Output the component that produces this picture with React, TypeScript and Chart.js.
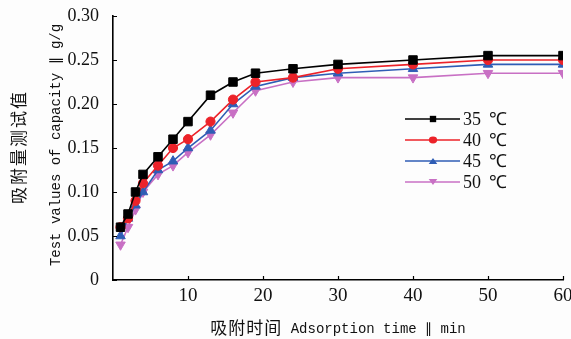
import React, { useEffect, useRef } from "react";
import { Chart, registerables } from "chart.js";

Chart.register(...registerables);

const times = [1, 2, 3, 4, 6, 8, 10, 13, 16, 19, 24, 30, 40, 50, 60];
const seriesLabels = ["35 ℃", "40 ℃", "45 ℃", "50 ℃"];
const values35 = [0.06, 0.075, 0.1, 0.12, 0.14, 0.16, 0.18, 0.21, 0.225, 0.235, 0.24, 0.245, 0.25, 0.255, 0.255];
const values40 = [0.06, 0.07, 0.09, 0.11, 0.13, 0.15, 0.16, 0.18, 0.205, 0.225, 0.23, 0.24, 0.245, 0.25, 0.25];
const values45 = [0.05, 0.07, 0.085, 0.1, 0.125, 0.135, 0.15, 0.17, 0.2, 0.22, 0.23, 0.235, 0.24, 0.245, 0.245];
const values50 = [0.04, 0.06, 0.08, 0.1, 0.12, 0.13, 0.145, 0.165, 0.19, 0.215, 0.225, 0.23, 0.23, 0.235, 0.235];
const xTicks = [10, 20, 30, 40, 50, 60];
const yTicks = [0, 0.05, 0.1, 0.15, 0.2, 0.25, 0.3];

const yTitleCn = "吸附量测试值";
const yTitleEn = "Test values of capacity ∥ g/g";
const xTitleCn = "吸附时间";
const xTitleEn = "Adsorption time ∥ min";

const colors = ["#000000", "#ec2229", "#2f5db5", "#c870c4"];
const styles: any[] = ["rect", "circle", "triangle", "triangle"];
const rotations = [0, 0, 0, 180];
const radii = [6, 4.6, 5.5, 5.5];

const SERIF = "'Liberation Serif', 'Times New Roman', serif";
const MONO = "'Liberation Mono', 'Courier New', monospace";
const CJK = "'Noto Sans CJK SC', sans-serif";

function drawMarker(ctx: CanvasRenderingContext2D, style: string, rot: number, r: number, x: number, y: number) {
  ctx.beginPath();
  if (style === "rect") {
    const s = r * Math.SQRT1_2;
    ctx.rect(x - s, y - s, 2 * s, 2 * s);
  } else if (style === "circle") {
    ctx.ellipse(x, y, r * 1.2, r, 0, 0, Math.PI * 2);
  } else {
    const a0 = (rot * Math.PI) / 180 - Math.PI / 2;
    for (let k = 0; k < 3; k++) {
      const a = a0 + (k * 2 * Math.PI) / 3;
      const px = x + Math.cos(a) * r * 1.2;
      const py = y + Math.sin(a) * r + (rot === 180 ? -r * 0.25 : r * 0.25);
      if (k === 0) ctx.moveTo(px, py);
      else ctx.lineTo(px, py);
    }
    ctx.closePath();
  }
  ctx.fill();
}

const decorPlugin = {
  id: "decor",
  afterDraw(chart: any) {
    const ctx = chart.ctx as CanvasRenderingContext2D;
    const xs = chart.scales.x;
    const ys = chart.scales.y;
    const area = chart.chartArea;
    ctx.save();
    // inward tick marks
    ctx.strokeStyle = "#000";
    ctx.lineWidth = 1.2;
    ctx.beginPath();
    xTicks.forEach((v) => {
      const px = Math.round(xs.getPixelForValue(v)) + 0.5;
      ctx.moveTo(px, area.bottom);
      ctx.lineTo(px, area.bottom - 4);
    });
    yTicks.forEach((v) => {
      const py = Math.round(ys.getPixelForValue(v)) + 0.5;
      ctx.moveTo(area.left, py);
      ctx.lineTo(area.left + 4, py);
    });
    ctx.stroke();

    // y titles
    ctx.fillStyle = "#111";
    ctx.textAlign = "center";
    ctx.textBaseline = "middle";
    ctx.save();
    ctx.translate(19, 147);
    ctx.rotate(-Math.PI / 2);
    ctx.font = `17px ${CJK}`;
    (ctx as any).letterSpacing = "2px";
    ctx.fillText(yTitleCn, 0, 0);
    ctx.restore();

    ctx.save();
    ctx.translate(56, 145);
    ctx.rotate(-Math.PI / 2);
    ctx.font = `14px ${MONO}`;
    ctx.fillText(yTitleEn, 0, 0);
    ctx.restore();

    // x title
    ctx.save();
    ctx.textAlign = "left";
    ctx.font = `17px ${CJK}`;
    (ctx as any).letterSpacing = "1px";
    const cnW = ctx.measureText(xTitleCn).width;
    (ctx as any).letterSpacing = "0px";
    ctx.font = `14px ${MONO}`;
    const enW = ctx.measureText(" " + xTitleEn).width;
    const cx = (area.left + area.right) / 2;
    const start = cx - (cnW + enW) / 2;
    ctx.font = `17px ${CJK}`;
    (ctx as any).letterSpacing = "1px";
    ctx.fillText(xTitleCn, start, 328);
    (ctx as any).letterSpacing = "0px";
    ctx.font = `14px ${MONO}`;
    ctx.fillText(" " + xTitleEn, start + cnW, 329);
    ctx.restore();

    // legend
    const rows = [119, 140, 161, 182];
    chart.data.datasets.forEach((ds: any, i: number) => {
      const y = rows[i];
      ctx.strokeStyle = ds.borderColor;
      ctx.lineWidth = 1.6;
      ctx.beginPath();
      ctx.moveTo(405, y);
      ctx.lineTo(460, y);
      ctx.stroke();
      ctx.fillStyle = ds.borderColor;
      drawMarker(ctx, ds.pointStyle, ds.pointRotation, ds.pointRadius * 0.75, 433, y);
      ctx.fillStyle = "#111";
      ctx.textAlign = "left";
      ctx.textBaseline = "middle";
      ctx.font = `18px ${SERIF}`;
      const parts = String(ds.label).split(" ");
      ctx.fillText(parts[0], 463, y + 1);
      ctx.fillText(parts[1] || "", 489, y + 1);
    });
    ctx.restore();
  },
};

export default function App() {
  const ref = useRef<HTMLCanvasElement>(null);
  useEffect(() => {
    if (!ref.current) return;
    const all = [values35, values40, values45, values50];
    const chart = new Chart(ref.current, {
      type: "line",
      data: {
        datasets: all.map((vals, i) => ({
          label: seriesLabels[i],
          data: times.map((t, j) => ({ x: t, y: vals[j] })),
          borderColor: colors[i],
          backgroundColor: colors[i],
          borderWidth: 1.6,
          pointStyle: styles[i],
          pointRotation: rotations[i],
          pointRadius: radii[i],
          pointBorderWidth: 1,
          tension: 0,
          fill: false,
        })),
      },
      options: {
        animation: false,
        responsive: false,
        maintainAspectRatio: false,
        layout: { padding: { top: 16, right: 8, left: 0, bottom: 0 } },
        plugins: { legend: { display: false }, tooltip: { enabled: false } },
        scales: {
          x: {
            type: "linear",
            min: 0,
            max: 60,
            afterBuildTicks: (s: any) => {
              s.ticks = xTicks.map((v) => ({ value: v }));
            },
            ticks: {
              color: "#111",
              font: { family: SERIF, size: 19 },
              padding: -3,
              maxRotation: 0,
              callback: (v: any) => String(v),
            },
            grid: { display: false },
            border: { display: true, color: "#000", width: 1.6 },
            afterFit: (s: any) => {
              s.height = 59;
              s.paddingLeft = 0;
              s.paddingRight = 0;
            },
          },
          y: {
            min: 0,
            max: 0.3,
            afterBuildTicks: (s: any) => {
              s.ticks = yTicks.map((v) => ({ value: v }));
            },
            ticks: {
              color: "#111",
              font: { family: SERIF, size: 18 },
              padding: 6,
              callback: (v: any) => (v === 0 ? "0" : Number(v).toFixed(2)),
            },
            grid: { display: false },
            border: { display: true, color: "#000", width: 1.6 },
            afterFit: (s: any) => {
              s.width = 113;
              s.paddingTop = 0;
              s.paddingBottom = 0;
            },
          },
        },
      },
      plugins: [decorPlugin],
    });
    return () => chart.destroy();
  }, []);
  return (
    <div style={{ position: "absolute", left: 0, top: 0, width: 571, height: 339, background: "#fdfdfd" }}>
      <canvas ref={ref} width={571} height={339} style={{ display: "block" }} />
    </div>
  );
}
